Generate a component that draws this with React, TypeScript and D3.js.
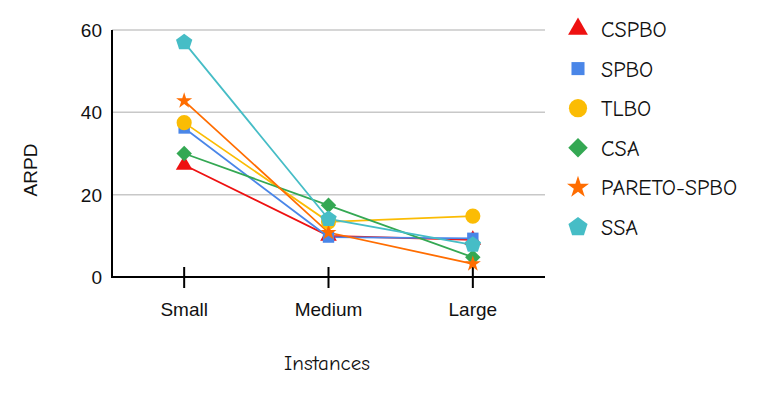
import React, { useEffect, useRef } from 'react';
import * as d3 from 'd3';

const categories = ['Small', 'Medium', 'Large'];
const seriesNames = ['CSPBO', 'SPBO', 'TLBO', 'CSA', 'PARETO-SPBO', 'SSA'];
const cspbo = [27.2, 10.0, 9.0];
const spbo = [36.2, 9.7, 9.4];
const tlbo = [37.5, 13.4, 14.8];
const csa = [30.0, 17.4, 4.8];
const paretoSpbo = [42.8, 10.8, 3.2];
const ssa = [57.0, 14.1, 7.8];
const yTicks = [0, 20, 40, 60];

const seriesValues = [cspbo, spbo, tlbo, csa, paretoSpbo, ssa];
const colors = ['#ee1111', '#4a86e8', '#fbbc04', '#34a853', '#ff6d01', '#46bdc6'];

// d3 has no pentagon, so a small custom symbol type
const symbolPentagon: d3.SymbolType = {
  draw(context, size) {
    const r = Math.sqrt(size / 2.378);
    for (let i = 0; i < 5; i++) {
      const a = -Math.PI / 2 + (i * 2 * Math.PI) / 5;
      const px = r * Math.cos(a);
      const py = r * Math.sin(a);
      if (i === 0) context.moveTo(px, py);
      else context.lineTo(px, py);
    }
    context.closePath();
  },
};

// square turned 45deg (d3's diamond is too narrow)
const symbolRhomb: d3.SymbolType = {
  draw(context, size) {
    const h = Math.sqrt(size / 2);
    context.moveTo(0, -h);
    context.lineTo(h, 0);
    context.lineTo(0, h);
    context.lineTo(-h, 0);
    context.closePath();
  },
};

const symbols = [
  d3.symbolTriangle,
  d3.symbolSquare,
  d3.symbolCircle,
  symbolRhomb,
  d3.symbolStar,
  symbolPentagon,
];
const comic = '"Comic Sans MS", "Comic Neue", "DejaVu Sans", sans-serif';
const plain = '"Liberation Sans", Arial, Helvetica, sans-serif';

const App = () => {
  const svgRef = useRef<SVGSVGElement>(null);
  const width = 759;
  const height = 394;

  useEffect(() => {
    const svg = d3.select(svgRef.current);
    svg.selectAll('*').remove();

    const margin = { top: 30, left: 112, right: 214, bottom: 117 };
    const innerW = width - margin.left - margin.right;
    const innerH = height - margin.top - margin.bottom;

    const x = d3.scalePoint<string>().domain(categories).range([0, innerW]).padding(0.5);
    const y = d3.scaleLinear().domain([0, 60]).range([innerH, 0]);

    const g = svg.append('g').attr('transform', `translate(${margin.left},${margin.top})`);

    // grid
    g.selectAll('.grid')
      .data(yTicks.filter((t) => t > 0))
      .enter()
      .append('line')
      .attr('x1', 0)
      .attr('x2', innerW)
      .attr('y1', (d) => y(d))
      .attr('y2', (d) => y(d))
      .attr('stroke', '#c8c8c8')
      .attr('stroke-width', 1.5);

    // y tick labels
    g.selectAll('.ylab')
      .data(yTicks)
      .enter()
      .append('text')
      .attr('x', -10)
      .attr('y', (d) => y(d))
      .attr('dy', '0.36em')
      .attr('text-anchor', 'end')
      .style('font-family', plain)
      .style('font-size', '19px')
      .style('fill', '#111')
      .text((d) => d);

    // x ticks and labels
    categories.forEach((c) => {
      g.append('line')
        .attr('x1', x(c)!)
        .attr('x2', x(c)!)
        .attr('y1', innerH - 10)
        .attr('y2', innerH + 11)
        .attr('stroke', '#000')
        .attr('stroke-width', 2);
      g.append('text')
        .attr('x', x(c)!)
        .attr('y', innerH + 39)
        .attr('text-anchor', 'middle')
        .style('font-family', plain)
        .style('font-size', '19px')
        .style('fill', '#111')
        .text(c);
    });

    // lines
    const line = d3
      .line<number>()
      .x((_, i) => x(categories[i])!)
      .y((d) => y(d));

    seriesValues.forEach((vals, si) => {
      g.append('path')
        .datum(vals)
        .attr('fill', 'none')
        .attr('stroke', colors[si])
        .attr('stroke-width', 1.8)
        .attr('d', line);
    });

    // markers
    const sizes = [120, 130, 180, 120, 80, 175];
    seriesValues.forEach((vals, si) => {
      g.selectAll(`.m${si}`)
        .data(vals)
        .enter()
        .append('path')
        .attr('transform', (d, i) => `translate(${x(categories[i])},${y(d)})`)
        .attr('d', d3.symbol().type(symbols[si]).size(sizes[si])())
        .attr('fill', colors[si]);
    });

    // axes lines
    g.append('line')
      .attr('x1', 0)
      .attr('x2', 0)
      .attr('y1', 0)
      .attr('y2', innerH)
      .attr('stroke', '#000')
      .attr('stroke-width', 2);
    g.append('line')
      .attr('x1', -1)
      .attr('x2', innerW)
      .attr('y1', innerH)
      .attr('y2', innerH)
      .attr('stroke', '#000')
      .attr('stroke-width', 2);

    // axis titles
    svg.append('text')
      .attr('transform', 'rotate(-90)')
      .attr('x', -170)
      .attr('y', 37)
      .attr('text-anchor', 'middle')
      .style('font-family', plain)
      .style('font-size', '19px')
      .style('fill', '#111')
      .text('ARPD');

    svg.append('text')
      .attr('x', 327)
      .attr('y', 370)
      .attr('text-anchor', 'middle')
      .style('font-family', comic)
      .style('font-size', '21px')
      .style('fill', '#111')
      .text('Instances');

    // legend
    const legend = svg.append('g').attr('transform', 'translate(578,29)');
    const legendSizes = [170, 170, 260, 190, 150, 240];
    seriesNames.forEach((name, i) => {
      const row = legend.append('g').attr('transform', `translate(0,${i * 39.6})`);
      row.append('path')
        .attr('d', d3.symbol().type(symbols[i]).size(legendSizes[i])())
        .attr('fill', colors[i]);
      row.append('text')
        .attr('x', 23)
        .attr('dy', '0.36em')
        .style('font-family', comic)
        .style('font-size', '22px')
        .style('fill', '#111')
        .text(name);
    });
  }, []);

  return <svg ref={svgRef} width={width} height={height} style={{ display: 'block', position: 'absolute', left: 0, top: 0 }} />;
};

export default App;
